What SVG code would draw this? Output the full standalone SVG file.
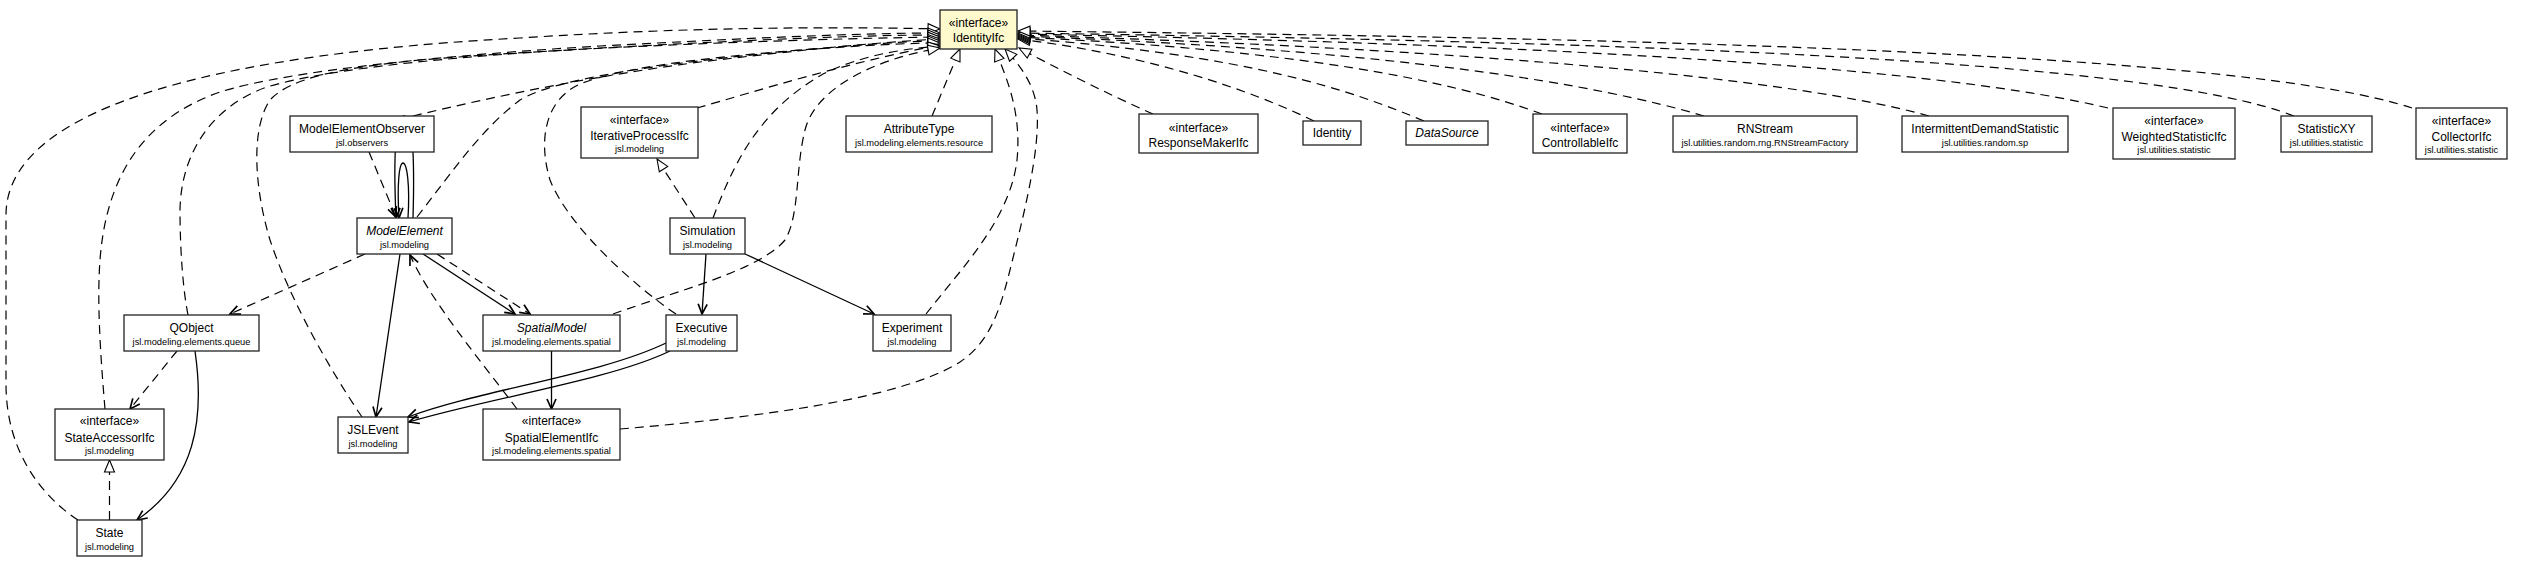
<svg xmlns="http://www.w3.org/2000/svg" width="2524" height="568" viewBox="0 0 2524 568">
<style>
.box{fill:#fff;stroke:#222;stroke-width:1.3}
.focus{fill:#FFFACD;stroke:#222;stroke-width:1.3}
text{font-family:"Liberation Sans",Arial,Helvetica,sans-serif;fill:#000;text-anchor:middle}
.t{font-size:12px}
.p{font-size:9.3px}
.i{font-style:italic}
#edges path{fill:none;stroke:#000}
#edges .real{stroke-width:1.2;stroke-dasharray:9,6;marker-end:url(#tri)}
#edges .dep{stroke-width:1.2;stroke-dasharray:9,6;marker-end:url(#open)}
#edges .assoc{stroke-width:1.3;marker-end:url(#open)}
</style>
<defs>
<marker id="tri" viewBox="-14 -7 16 14" refX="0" refY="0" markerWidth="16" markerHeight="14" markerUnits="userSpaceOnUse" orient="auto" overflow="visible"><path d="M0,0 L-12,-5 L-12,5 Z" fill="#fff" stroke="#000" stroke-width="1.1"/></marker>
<marker id="open" viewBox="-12 -6 14 12" refX="0" refY="0" markerWidth="14" markerHeight="12" markerUnits="userSpaceOnUse" orient="auto" overflow="visible"><path d="M-10,-4.5 L0,0 L-10,4.5" fill="none" stroke="#000" stroke-width="1.7"/></marker>
</defs>
<rect x="0" y="0" width="2524" height="568" fill="#fff"/>
<g id="edges">
<path class="real" d="M78 520 C40 495 6 450 6 384 L6 215 C6 140 110 60 520 38 C700 26 860 27 940 29"/>
<path class="real" d="M105 409 C100 350 97 300 100 260 C106 180 140 120 220 92 C290 70 450 55 600 46 C750 38 860 33 940 33"/>
<path class="real" d="M188 315 C183 290 180 250 180 210 C181 150 215 105 267 87 C330 68 460 56 600 48 C750 40 860 35 940 35"/>
<path class="real" d="M362 417 C330 370 290 300 270 240 C255 190 250 130 270 100 C290 78 340 68 420 60 C600 45 850 38 940 37"/>
<path class="real" d="M413 116 C500 95 600 75 700 62 C800 50 880 42 940 39"/>
<path class="real" d="M417 217 C450 175 480 130 520 100 C560 75 700 60 800 50 C870 44 910 41 940 41"/>
<path class="real" d="M676 314 C640 290 570 230 550 180 C538 140 545 100 580 84 C620 68 700 58 800 50 C870 45 910 43 940 43"/>
<path class="real" d="M697 108 C760 90 850 62 940 45"/>
<path class="real" d="M713 218 C735 160 760 110 823 74 C860 56 900 49 940 46"/>
<path class="real" d="M613 314 C680 290 760 270 785 240 C800 215 795 170 805 130 C815 90 870 60 940 48"/>
<path class="real" d="M932 116 L960 49"/>
<path class="real" d="M926 314 C960 270 1010 220 1017 160 C1022 110 1005 75 995 49"/>
<path class="real" d="M620 429 C750 418 900 400 960 362 C990 342 1000 310 1010 270 C1025 210 1040 150 1037 110 C1035 85 1020 65 1005 49"/>
<path class="real" d="M1153 114 C1110 95 1060 70 1019 48"/>
<path class="real" d="M1314 121 C1250 90 1150 55 1018 39"/>
<path class="real" d="M1424 121 C1350 90 1250 55 1018 38"/>
<path class="real" d="M1542 114 C1450 80 1300 50 1018 37"/>
<path class="real" d="M1704 116 C1600 85 1400 50 1018 36"/>
<path class="real" d="M1929 116 C1800 80 1500 50 1018 35"/>
<path class="real" d="M2108 108 C1950 70 1600 45 1018 34"/>
<path class="real" d="M2294 116 C2150 60 1650 42 1018 33"/>
<path class="real" d="M2412 108 C2250 55 1700 38 1018 31"/>
<path class="dep" d="M369 152 L396 217"/>
<path class="assoc" d="M413 218 C415 150 412 116 404 116 C396 116 393 150 396 218"/>
<path class="assoc" d="M408 218 C410 185 407 163 403 163 C399 163 397 185 399 218"/>
<path class="dep" d="M365 254 L230 314"/>
<path class="assoc" d="M400 254 L376 417"/>
<path class="dep" d="M517 409 C480 360 430 300 410 255"/>
<path class="assoc" d="M423 254 L515 314"/>
<path class="dep" d="M437 254 L530 314"/>
<path class="assoc" d="M551.5 351 L551.5 409"/>
<path class="assoc" d="M666 343 C600 375 480 390 408 417"/>
<path class="assoc" d="M670 351 C610 380 490 398 409 422"/>
<path class="assoc" d="M706 254 L702 314"/>
<path class="assoc" d="M745 254 L874 314"/>
<path class="real" d="M695 218 L657 159"/>
<path class="dep" d="M177 351 L130 409"/>
<path class="assoc" d="M195 351 C205 420 195 480 137 520"/>
<path class="real" d="M109.5 520 L109.5 460"/>
</g>
<g id="IdentityIfc"><rect class="focus" x="940" y="10" width="77" height="39"/><text class="t" x="978.5" y="27">«interface»</text><text class="t" x="978.5" y="42">IdentityIfc</text></g>
<g id="ModelElementObserver"><rect class="box" x="290" y="116" width="144" height="36"/><text class="t" x="362" y="133">ModelElementObserver</text><text class="p" x="362" y="146">jsl.observers</text></g>
<g id="ModelElement"><rect class="box" x="357" y="218" width="95" height="36"/><text class="t i" x="404.5" y="235">ModelElement</text><text class="p" x="404.5" y="248">jsl.modeling</text></g>
<g id="IterativeProcessIfc"><rect class="box" x="581" y="107" width="117" height="51"/><text class="t" x="639.5" y="124">«interface»</text><text class="t" x="639.5" y="140">IterativeProcessIfc</text><text class="p" x="639.5" y="152">jsl.modeling</text></g>
<g id="Simulation"><rect class="box" x="670" y="218" width="75" height="36"/><text class="t" x="707.5" y="235">Simulation</text><text class="p" x="707.5" y="248">jsl.modeling</text></g>
<g id="AttributeType"><rect class="box" x="846" y="116" width="146" height="36"/><text class="t" x="919" y="133">AttributeType</text><text class="p" x="919" y="146">jsl.modeling.elements.resource</text></g>
<g id="ResponseMakerIfc"><rect class="box" x="1139" y="114" width="119" height="39"/><text class="t" x="1198.5" y="132">«interface»</text><text class="t" x="1198.5" y="147">ResponseMakerIfc</text></g>
<g id="Identity"><rect class="box" x="1303" y="121" width="58" height="24"/><text class="t" x="1332" y="137">Identity</text></g>
<g id="DataSource"><rect class="box" x="1406" y="121" width="82" height="24"/><text class="t i" x="1447" y="137">DataSource</text></g>
<g id="ControllableIfc"><rect class="box" x="1533" y="114" width="94" height="39"/><text class="t" x="1580" y="132">«interface»</text><text class="t" x="1580" y="147">ControllableIfc</text></g>
<g id="RNStream"><rect class="box" x="1673" y="116" width="184" height="36"/><text class="t" x="1765" y="133">RNStream</text><text class="p" x="1765" y="146">jsl.utilities.random.rng.RNStreamFactory</text></g>
<g id="IntermittentDemandStatistic"><rect class="box" x="1902" y="116" width="166" height="36"/><text class="t" x="1985" y="133">IntermittentDemandStatistic</text><text class="p" x="1985" y="146">jsl.utilities.random.sp</text></g>
<g id="WeightedStatisticIfc"><rect class="box" x="2113" y="108" width="122" height="51"/><text class="t" x="2174" y="125">«interface»</text><text class="t" x="2174" y="141">WeightedStatisticIfc</text><text class="p" x="2174" y="153">jsl.utilities.statistic</text></g>
<g id="StatisticXY"><rect class="box" x="2281" y="116" width="91" height="36"/><text class="t" x="2326.5" y="133">StatisticXY</text><text class="p" x="2326.5" y="146">jsl.utilities.statistic</text></g>
<g id="CollectorIfc"><rect class="box" x="2416" y="108" width="91" height="51"/><text class="t" x="2461.5" y="125">«interface»</text><text class="t" x="2461.5" y="141">CollectorIfc</text><text class="p" x="2461.5" y="153">jsl.utilities.statistic</text></g>
<g id="QObject"><rect class="box" x="124" y="315" width="135" height="36"/><text class="t" x="191.5" y="332">QObject</text><text class="p" x="191.5" y="345">jsl.modeling.elements.queue</text></g>
<g id="StateAccessorIfc"><rect class="box" x="55" y="409" width="109" height="51"/><text class="t" x="109.5" y="425">«interface»</text><text class="t" x="109.5" y="442">StateAccessorIfc</text><text class="p" x="109.5" y="454">jsl.modeling</text></g>
<g id="State"><rect class="box" x="77" y="520" width="65" height="36"/><text class="t" x="109.5" y="537">State</text><text class="p" x="109.5" y="550">jsl.modeling</text></g>
<g id="JSLEvent"><rect class="box" x="338" y="417" width="70" height="36"/><text class="t" x="373" y="434">JSLEvent</text><text class="p" x="373" y="447">jsl.modeling</text></g>
<g id="SpatialModel"><rect class="box" x="483" y="315" width="137" height="36"/><text class="t i" x="551.5" y="332">SpatialModel</text><text class="p" x="551.5" y="345">jsl.modeling.elements.spatial</text></g>
<g id="Executive"><rect class="box" x="666" y="315" width="71" height="36"/><text class="t" x="701.5" y="332">Executive</text><text class="p" x="701.5" y="345">jsl.modeling</text></g>
<g id="Experiment"><rect class="box" x="873" y="315" width="78" height="36"/><text class="t" x="912" y="332">Experiment</text><text class="p" x="912" y="345">jsl.modeling</text></g>
<g id="SpatialElementIfc"><rect class="box" x="483" y="409" width="137" height="51"/><text class="t" x="551.5" y="425">«interface»</text><text class="t" x="551.5" y="442">SpatialElementIfc</text><text class="p" x="551.5" y="454">jsl.modeling.elements.spatial</text></g>
</svg>
